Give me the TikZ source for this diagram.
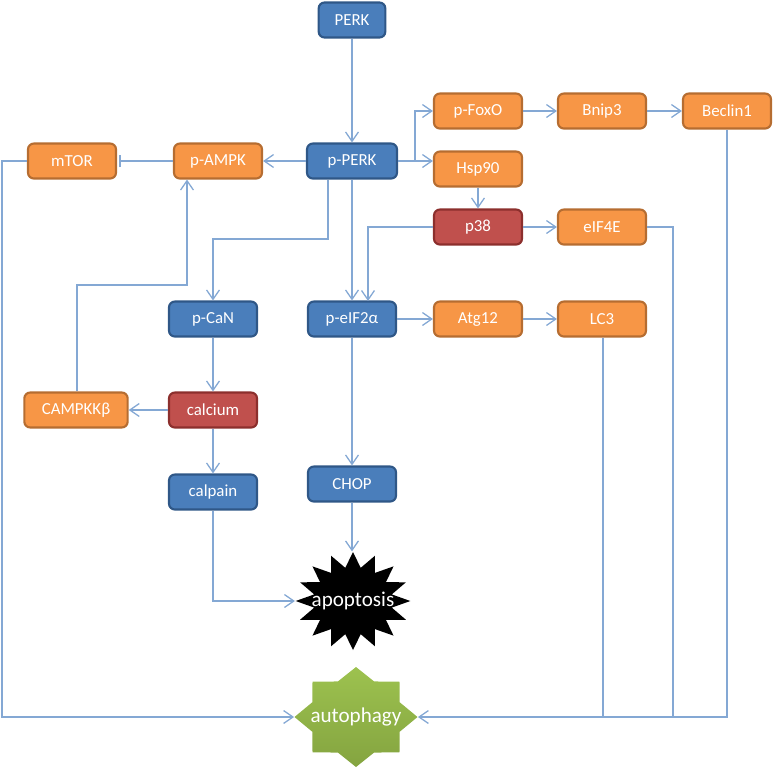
\documentclass[tikz,border=0pt]{standalone}
\usepackage{fontspec}
\setmainfont{Carlito}
\usetikzlibrary{arrows.meta,shapes.geometric}
\definecolor{linkblue}{HTML}{84A8D4}
\definecolor{blueface}{HTML}{4A7EBB}
\definecolor{blueedge}{HTML}{2F5787}
\definecolor{orangeface}{HTML}{F79646}
\definecolor{orangeedge}{HTML}{B66D31}
\definecolor{redface}{HTML}{C0504D}
\definecolor{rededge}{HTML}{8C2F2D}
\definecolor{greentop}{HTML}{9DC24F}
\definecolor{greenfoot}{HTML}{84A440}
\tikzset{
  box/.style={draw, line width=1.8pt, rounded corners=5pt, minimum width=2.64cm, minimum height=1.05cm,
    inner sep=0pt, text=white, font=\fontsize{14.4}{16}\selectfont},
  bluebox/.style={box, fill=blueface, draw=blueedge},
  orangebox/.style={box, fill=orangeface, draw=orangeedge},
  redbox/.style={box, fill=redface, draw=rededge},
  link/.style={draw=linkblue, line width=1.1pt, -{Straight Barb[length=8pt,width=11pt,line width=1.1pt]}},
  plainlink/.style={draw=linkblue, line width=1.1pt},
  starlabel/.style={text=white, font=\fontsize{18}{20}\selectfont},
}
\begin{document}
\begin{tikzpicture}[x=0.03cm, y=-0.03cm]
  \useasboundingbox (0,0) rectangle (774,771);
  % proteins
  \node[bluebox, minimum width=2cm] (perk) at (352,20) {PERK};
  \node[bluebox, minimum width=2.7cm] (pperk) at (352,161) {p-PERK};
  \node[orangebox] (pampk) at (218,161) {p-AMPK};
  \node[orangebox] (mtor) at (72,161) {mTOR};
  \node[orangebox] (pfoxo) at (478,111) {p-FoxO};
  \node[orangebox] (bnip) at (602,111) {Bnip3};
  \node[orangebox] (beclin) at (727,111) {Beclin1};
  \node[orangebox] (hsp) at (478,169) {Hsp90};
  \node[redbox] (pcheck) at (478,227) {p38};
  \node[orangebox] (eif4e) at (602,227) {eIF4E};
  \node[bluebox] (peif) at (352,319) {p-eIF2α};
  \node[orangebox] (atg) at (478,319) {Atg12};
  \node[orangebox] (lcthree) at (602,319) {LC3};
  \node[bluebox] (pcan) at (213,319) {p-CaN};
  \node[redbox] (calcium) at (213,410) {calcium};
  \node[orangebox, minimum width=3.1cm] (campkk) at (76,410) {CAMPKKβ};
  \node[bluebox] (calpain) at (213,492) {calpain};
  \node[bluebox] (chop) at (352,484) {CHOP};
  % outcomes
  \node[star, star points=16, star point ratio=1.45, fill=black, minimum size=2.94cm, inner sep=0pt,
    xscale=1.17, transform shape] (apoptosis) at (353,601) {};
  \node[starlabel] (apoptosistext) at (apoptosis) {apoptosis};
  \node[star, star points=8, star point ratio=1.3, top color=greentop, bottom color=greenfoot,
    minimum size=3cm, inner sep=0pt, xscale=1.23, transform shape] (autophagy) at (356,717) {};
  \node[starlabel] (autophagytext) at (autophagy) {autophagy};
  % bends
  \coordinate (mtorleft) at (2,161);
  \coordinate (mtorfoot) at (2,717);
  \coordinate (forkup) at (415,161);
  \coordinate (forktop) at (415,111);
  \coordinate (cansplit) at (328,239);
  \coordinate (canturn) at (213,239);
  \coordinate (pinturn) at (368,227);
  \coordinate (pinfoot) at (368,301);
  \coordinate (campkkup) at (77,285);
  \coordinate (ampkfoot) at (187,285);
  \coordinate (calpainfoot) at (213,601);
  \coordinate (eifright) at (673,227);
  \coordinate (eiffoot) at (673,717);
  \coordinate (lcfoot) at (603,717);
  \coordinate (beclinfoot) at (727,717);
  % connectors
  \begin{scope}
    \draw[link] (perk) to (pperk);
    \draw[link] (pperk) to (pampk);
    \draw[plainlink, -{Bar[width=11pt,line width=1.1pt]}, shorten >=2pt] (pampk) to (mtor);
    \draw[link] (mtor.west) -- (mtorleft) -- (mtorfoot) -- (autophagy.west);
    \draw[link] (pperk.east) -- (forkup) -- (forktop) -- (pfoxo.west);
    \draw[link] (pperk.east) -- (pperk.east -| hsp.west);
    \draw[link] (pfoxo) to (bnip);
    \draw[link] (bnip) to (beclin);
    \draw[link] (hsp) to (pcheck);
    \draw[link] (pcheck) to (eif4e);
    \draw[link] (pcheck.west) -- (pinturn) -- (pinfoot);
    \draw[link] (pperk) to (peif);
    \draw[link] (cansplit |- pperk.south) -- (cansplit) -- (canturn) -- (pcan.north);
    \draw[link] (peif) to (atg);
    \draw[link] (atg) to (lcthree);
    \draw[link] (pcan) to (calcium);
    \draw[link] (calcium) to (campkk);
    \draw[link] (calcium) to (calpain);
    \draw[link] (campkkup |- campkk.north) -- (campkkup) -- (ampkfoot) -- (ampkfoot |- pampk.south);
    \draw[link] (peif) to (chop);
    \draw[link] (chop.south) -- (chop.south |- apoptosis.north);
    \draw[link] (calpain.south) -- (calpainfoot) -- (apoptosis.west);
    \draw[link] (beclin.south -| beclinfoot) -- (beclinfoot) -- (autophagy.east);
    \draw[plainlink] (eif4e.east) -- (eifright) -- (eiffoot);
    \draw[plainlink] (lcthree.south -| lcfoot) -- (lcfoot);
  \end{scope}
\end{tikzpicture}
\end{document}
